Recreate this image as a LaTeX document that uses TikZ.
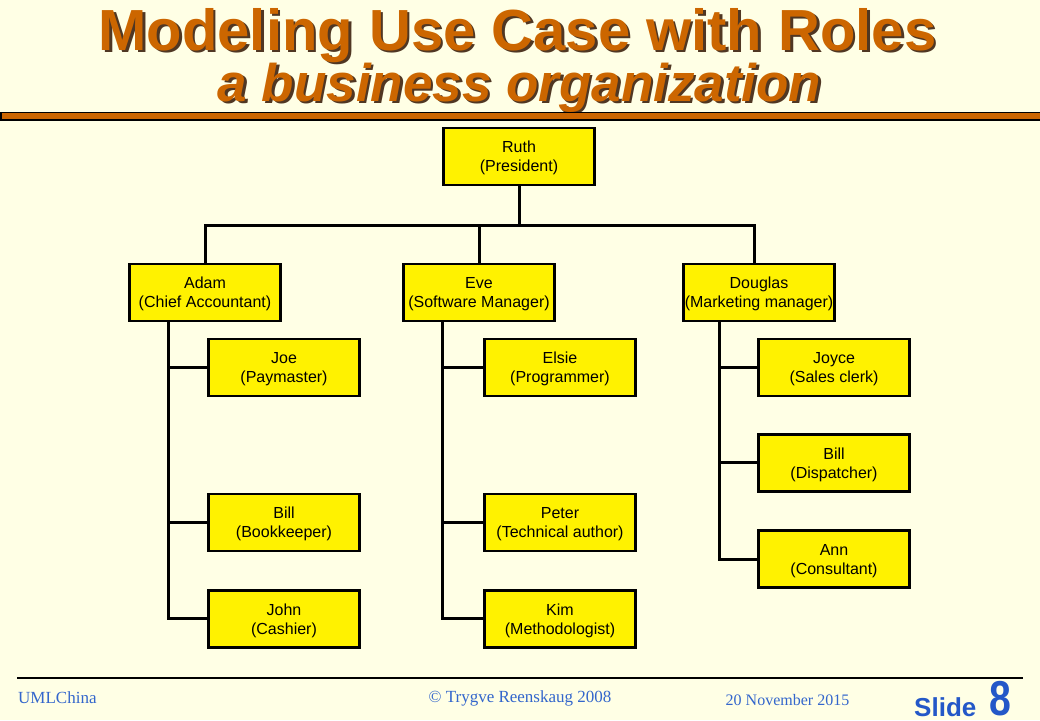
\documentclass[tikz,border=0pt]{standalone}
\usepackage{fontspec}
\setmainfont{Liberation Serif}
\setsansfont{Liberation Sans}
\newfontfamily\narrowbold[FakeStretch=0.8]{Liberation Sans}
\usetikzlibrary{calc}
\definecolor{bg}{RGB}{255,255,229}
\definecolor{titleorange}{RGB}{204,102,0}
\definecolor{titleshadow}{RGB}{80,55,35}
\definecolor{footblue}{RGB}{51,102,204}
\definecolor{slideblue}{RGB}{36,88,200}
\tikzset{
  orgbox/.style={draw=black, line width=2.6pt, fill=yellow, minimum width=151pt,
    minimum height=57pt, align=center, inner sep=0pt, text depth=0pt,
    font=\sffamily\fontsize{16}{19}\selectfont},
  conn/.style={line width=3pt},
  titleA/.style={anchor=base, inner sep=0pt, text depth=0pt, font=\sffamily\bfseries\fontsize{58}{60}\selectfont},
  titleB/.style={anchor=base, inner sep=0pt, text height=38pt, font=\sffamily\bfseries\itshape\fontsize{53}{55}\selectfont},
  foot/.style={anchor=base, inner sep=0pt, text=footblue, font=\rmfamily\fontsize{17}{19}\selectfont}
}
\begin{document}
\begin{tikzpicture}[x=1pt,y=-1pt]
\useasboundingbox[fill=bg] (0,0) rectangle (1040,720);

% title with shadow
\node[titleA, text=titleshadow] (t1s) at (520,52.5) {Modeling Use Case with Roles};
\node[titleA, text=titleorange] (t1) at (517.5,50) {Modeling Use Case with Roles};
\node[titleB, text=titleshadow] (t2s) at (522,103.5) {a business organization};
\node[titleB, text=titleorange] (t2) at (519.5,101) {a business organization};

% orange bar
\draw[fill=titleorange, draw=black, line width=1.2pt] (1,112.8) rectangle (1045,120);

% boxes
\node[orgbox] (ruth) at (519,156.5) {Ruth\\(President)};
\node[orgbox] (adam) at (205,292.5) {Adam\\(Chief Accountant)};
\node[orgbox] (eve) at (479,292.5) {Eve\\(Software Manager)};
\node[orgbox] (douglas) at (759,292.5) {Douglas\\(Marketing manager)};

\node[orgbox] (joe) at (284,367.5) {Joe\\(Paymaster)};
\node[orgbox] (billb) at (284,522.3) {Bill\\(Bookkeeper)};
\node[orgbox] (john) at (284,618.7) {John\\(Cashier)};

\node[orgbox] (elsie) at (560,367.5) {Elsie\\(Programmer)};
\node[orgbox] (peter) at (560,522.3) {Peter\\(Technical author)};
\node[orgbox] (kim) at (560,618.7) {Kim\\(Methodologist)};

\node[orgbox] (joyce) at (834,367.5) {Joyce\\(Sales clerk)};
\node[orgbox] (billd) at (834,462.7) {Bill\\(Dispatcher)};
\node[orgbox] (ann) at (834,559) {Ann\\(Consultant)};

% connectors
\coordinate (bus) at (0,225);
\coordinate (dn) at ($(douglas.north)+(-5,0)$);
\draw[conn] (ruth.south) -- (ruth.south |- bus);
\draw[conn] (adam.north) -- (adam.north |- bus) -- (dn |- bus) -- (dn);
\draw[conn] (eve.north) -- (eve.north |- bus);

\coordinate (av) at ($(adam.south)+(-37,0)$);
\coordinate (ev) at ($(eve.south)+(-37,0)$);
\coordinate (dv) at ($(douglas.south)+(-40,0)$);

\draw[conn] (av) |- (john.west);
\draw[conn] (joe.west) -- (joe.west -| av);
\draw[conn] (billb.west) -- (billb.west -| av);

\draw[conn] (ev) |- (kim.west);
\draw[conn] (elsie.west) -- (elsie.west -| ev);
\draw[conn] (peter.west) -- (peter.west -| ev);

\draw[conn] (dv) |- (ann.west);
\draw[conn] (joyce.west) -- (joyce.west -| dv);
\draw[conn] (billd.west) -- (billd.west -| dv);

% footer
\draw[line width=1.3pt] (17,678) -- (1023,678);
\node[foot, anchor=base west] (uml) at (18,703) {UMLChina};
\node[foot] (copy) at (520,702.5) {© Trygve Reenskaug 2008};
\node[foot, font=\rmfamily\fontsize{16}{18}\selectfont] (date) at (787.5,705) {20 November 2015};
\node[anchor=base west, inner sep=0pt, text=slideblue, font=\sffamily\bfseries\fontsize{26}{28}\selectfont] (slide) at (914,716) {Slide};
\node[anchor=base west, inner sep=0pt, text depth=0pt, text=slideblue, font=\narrowbold\bfseries\fontsize{49}{51}\selectfont] (num) at (989,715.5) {8};
\end{tikzpicture}
\end{document}
